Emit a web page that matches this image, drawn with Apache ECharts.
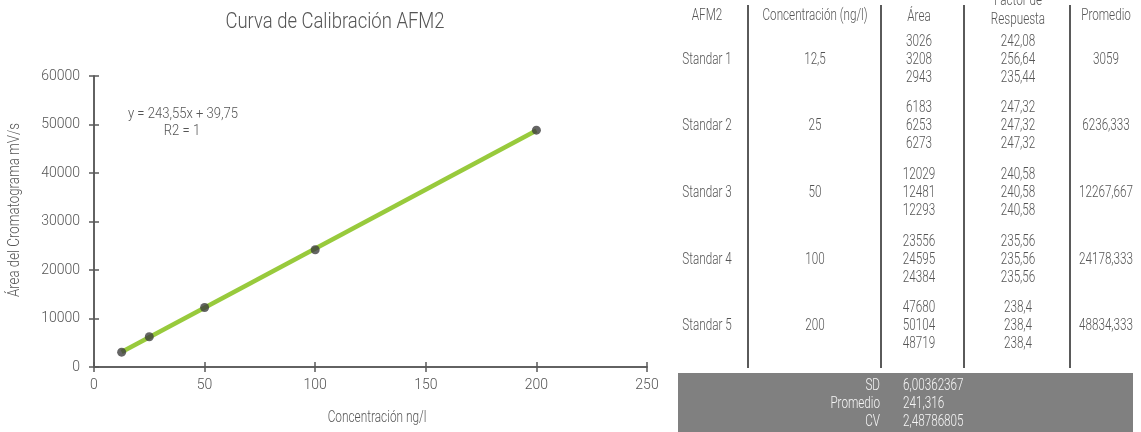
<!DOCTYPE html>
<html>
<head>
<meta charset="utf-8">
<script src="https://cdn.jsdelivr.net/npm/echarts@6/dist/echarts.min.js"></script>
<style>
  html, body { margin: 0; padding: 0; background: #fff; }
  #chart { width: 1141px; height: 432px; }
</style>
</head>
<body>
<div id="chart"></div>
<script>
// Calibration data for AFM2
const standards = ['Standar 1', 'Standar 2', 'Standar 3', 'Standar 4', 'Standar 5'];
const concentrations = [12.5, 25, 50, 100, 200];
const areas = [
  [3026, 3208, 2943],
  [6183, 6253, 6273],
  [12029, 12481, 12293],
  [23556, 24595, 24384],
  [47680, 50104, 48719]
];
const responseFactors = [
  [242.08, 256.64, 235.44],
  [247.32, 247.32, 247.32],
  [240.58, 240.58, 240.58],
  [235.56, 235.56, 235.56],
  [238.4, 238.4, 238.4]
];
const averages = [3059, 6236.333, 12267.667, 24178.333, 48834.333];
const tableHeaders = ['AFM2', 'Concentración (ng/l)', 'Área', 'Factor de\nRespuesta', 'Promedio'];
const summaryLabels = ['SD', 'Promedio', 'CV'];
const summaryValues = [6.00362367, 241.316, 2.48786805];

// Linear fit reported on the chart
const slope = 243.55;
const intercept = 39.75;
const r2 = 1;

const xTicks = { min: 0, max: 250, interval: 50 };
const yTicks = { min: 0, max: 60000, interval: 10000 };

const FONT = 'Roboto, "DejaVu Sans", sans-serif';
const WEIGHT = 300;
const TEXT = '#555555';
const AXIS = '#595959';

const fmt = v => String(v).replace('.', ',');

const fitLine = [concentrations[0], concentrations[concentrations.length - 1]]
  .map(x => [x, slope * x + intercept]);

const graphics = [];

// condensed text helper: narrow glyphs via horizontal scaling around the anchor
function txt(x, y, s, opts = {}, size = 16, sx = 0.73, rot = 0) {
  graphics.push({
    type: 'text', x, y, scaleX: sx, rotation: rot, silent: true,
    style: Object.assign({
      text: s, fill: TEXT, font: WEIGHT + ' ' + size + 'px ' + FONT,
      textAlign: 'center', textVerticalAlign: 'middle'
    }, opts)
  });
}

// title and axis names
txt(335, 22, 'Curva de Calibración AFM2', {}, 22, 0.84);
txt(377, 418, 'Concentración ng/l', {}, 16, 0.74);
txt(15, 210, 'Área del Cromatograma mV/s', {}, 16, 0.83, Math.PI / 2);

// equation annotation
txt(183, 114, 'y = ' + fmt(slope) + 'x + ' + fmt(intercept), {}, 15, 0.87);
txt(182, 131, 'R2 = ' + fmt(r2), {}, 15, 0.87);

// table layout
const colX = [707, 815, 919, 1018, 1106];
const sepX = [748, 881, 964, 1070];
const rowY = [60, 126, 193, 260, 326];
const lineGap = 18;

// header
txt(colX[0], 16, tableHeaders[0]);
txt(colX[1], 16, tableHeaders[1]);
txt(colX[2], 17, tableHeaders[2]);
const fr = tableHeaders[3].split('\n');
txt(colX[3], 1, fr[0]);
txt(colX[3], 20, fr[1]);
txt(colX[4], 16, tableHeaders[4]);

// body
standards.forEach((name, i) => {
  const y = rowY[i];
  txt(colX[0], y, name);
  txt(colX[1], y, fmt(concentrations[i]));
  areas[i].forEach((a, k) => txt(colX[2], y + (k - 1) * lineGap, fmt(a)));
  responseFactors[i].forEach((f, k) => txt(colX[3], y + (k - 1) * lineGap, fmt(f)));
  txt(colX[4], y, fmt(averages[i]));
});

// column separators
sepX.forEach(x => graphics.push({
  type: 'line', silent: true,
  shape: { x1: x, y1: 5, x2: x, y2: 368 },
  style: { stroke: '#5a5a5a', lineWidth: 2 }
}));

// summary box
graphics.push({
  type: 'rect', silent: true,
  shape: { x: 678, y: 373, width: 455, height: 60 },
  style: { fill: '#808080' }
});
summaryLabels.forEach((lab, i) => {
  const y = 386 + i * 18;
  txt(880, y, lab, { textAlign: 'right', fill: '#f6f6f6' });
  txt(903, y, fmt(summaryValues[i]), { textAlign: 'left', fill: '#f6f6f6' });
});

const chart = echarts.init(document.getElementById('chart'), null, { renderer: 'canvas' });

const labelStyle = { fontFamily: FONT, fontWeight: WEIGHT, fontSize: 14, color: TEXT };
const tickStyle = { color: AXIS, width: 1.5 };

const baseX = {
  type: 'value', min: xTicks.min, max: xTicks.max, interval: xTicks.interval,
  splitLine: { show: false },
  axisLine: { show: true, lineStyle: { color: AXIS, width: 1.5 } }
};
const baseY = {
  type: 'value', min: yTicks.min, max: yTicks.max, interval: yTicks.interval,
  splitLine: { show: false },
  axisLine: { show: true, lineStyle: { color: AXIS, width: 1.5 } }
};

chart.setOption({
  animation: false,
  grid: { left: 94, right: 494, top: 76, bottom: 65, containLabel: false },
  xAxis: [
    Object.assign({}, baseX, {
      axisTick: { show: true, inside: false, length: 5, lineStyle: tickStyle },
      axisLabel: Object.assign({ margin: 11 }, labelStyle)
    }),
    Object.assign({}, baseX, {
      position: 'bottom',
      axisTick: { show: true, inside: true, length: 5, lineStyle: tickStyle },
      axisLabel: { show: false }
    })
  ],
  yAxis: [
    Object.assign({}, baseY, {
      axisTick: { show: true, inside: false, length: 5, lineStyle: tickStyle },
      axisLabel: Object.assign({ margin: 14, formatter: v => String(v) }, labelStyle)
    }),
    Object.assign({}, baseY, {
      position: 'left',
      axisTick: { show: true, inside: true, length: 5, lineStyle: tickStyle },
      axisLabel: { show: false }
    })
  ],
  series: [
    {
      type: 'line', data: fitLine, xAxisIndex: 0, yAxisIndex: 0,
      showSymbol: false, silent: true, z: 2,
      lineStyle: { color: '#98ca3c', width: 4.5 }
    },
    {
      type: 'scatter', xAxisIndex: 0, yAxisIndex: 0, z: 3,
      data: concentrations.map((c, i) => [c, averages[i]]),
      symbolSize: 9,
      itemStyle: { color: '#3f3f3f' }
    }
  ],
  graphic: graphics
});
</script>
</body>
</html>
